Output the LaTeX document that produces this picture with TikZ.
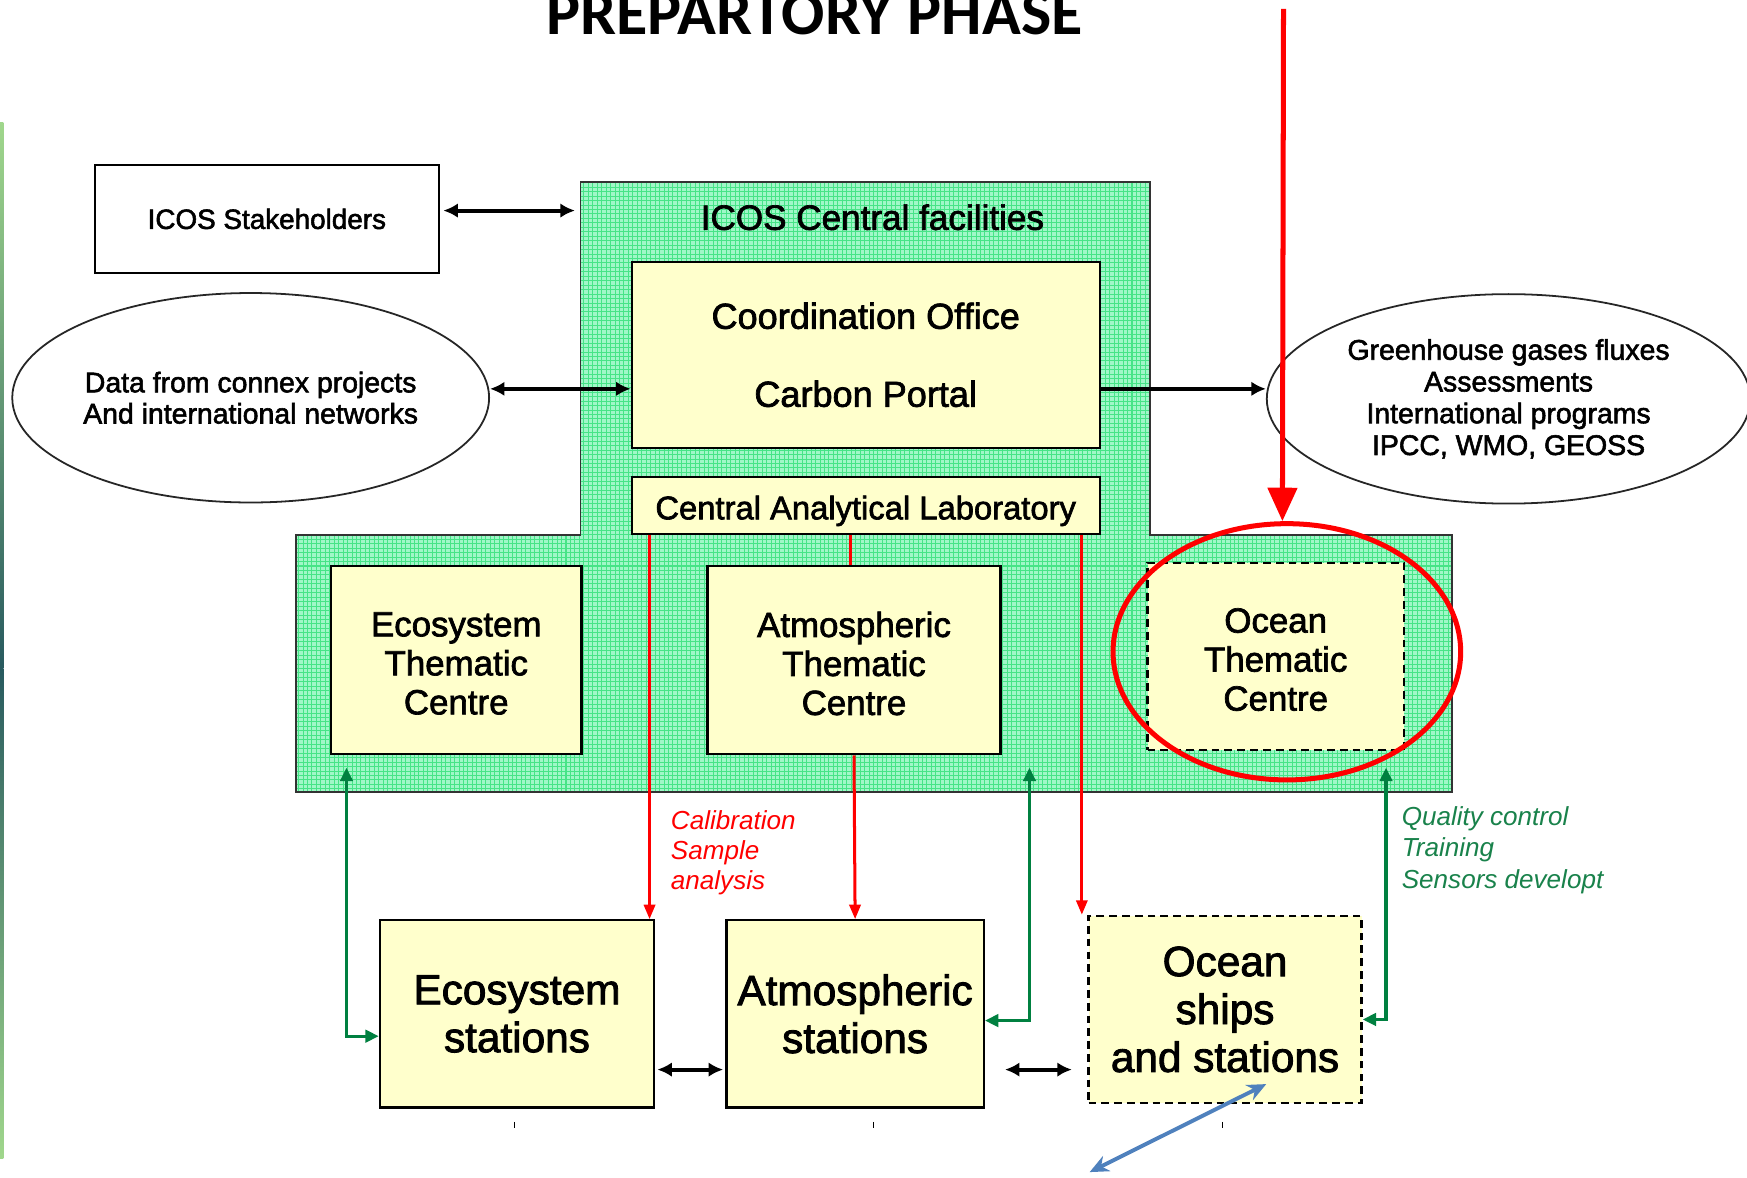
\documentclass[tikz,border=0pt]{standalone}
\usepackage{fontspec}
\setmainfont{Liberation Sans}[FakeBold=2]
\newfontfamily\lightfont{Liberation Sans}
\newfontfamily\calfont{Carlito}
\usetikzlibrary{arrows.meta,shapes.geometric}

\definecolor{boxyellow}{RGB}{255,255,204}
\definecolor{mintfill}{RGB}{160,247,200}
\definecolor{mintline}{RGB}{70,228,135}
\definecolor{arrowgreen}{RGB}{0,128,64}
\definecolor{labelgreen}{RGB}{25,130,75}
\definecolor{arrowblue}{RGB}{79,129,189}
\definecolor{stripdark}{RGB}{40,90,95}
\definecolor{striplight}{RGB}{160,215,140}

\newcommand{\fsz}[2]{\fontsize{#1}{#2}\selectfont}

\begin{document}
\begin{tikzpicture}[x=1pt,y=-1pt,
  ybox/.style={draw=black, line width=2pt, fill=boxyellow, rectangle, inner sep=0pt, align=center},
  dbox/.style={ybox, dash pattern=on 7pt off 4.5pt},
  wbox/.style={draw=black, line width=1.8pt, fill=white, rectangle, inner sep=0pt, align=center},
  ell/.style={ellipse, draw=black!85, line width=1.6pt, fill=white, inner sep=0pt, align=center},
  boxtext/.style={inner sep=0pt, align=center},
  blk/.style={line width=3.5pt, black},
  blktip/.tip={Latex[length=13pt,width=13pt]},
  redthick/.style={line width=4.5pt, red, -{Triangle[length=30pt,width=26pt]}},
  redthin/.style={line width=2.7pt, red},
  redtip/.tip={Triangle[length=13pt,width=10pt]},
  grn/.style={line width=3pt, arrowgreen, {Triangle[length=12pt,width=11pt]}-{Triangle[length=12pt,width=11pt]}},
  blu/.style={line width=3.5pt, arrowblue, {Stealth[length=17pt,width=15pt]}-{Stealth[length=17pt,width=15pt]}},
]
\useasboundingbox (0,0) rectangle (1568,1057);
\clip (0,0) rectangle (1568,1057);
\fill[white] (0,0) rectangle (1568,1057);

% left slide edge strip
\shade[top color=striplight, bottom color=stripdark] (0,110) rectangle (3,600);
\shade[top color=stripdark, bottom color=striplight] (0,600) rectangle (3,1040);

% title
\node[anchor=base, inner sep=0pt] (title) at (731,31) {\calfont\bfseries\fsz{57.5}{60}PREPARTORY PHASE};

% central facilities region
\fill[mintfill] (521,163) -- (1032,163) -- (1032,480) -- (1303,480) -- (1303,711) -- (266,711) -- (266,480) -- (521,480) -- cycle;
\begin{scope}
  \clip (521,163) -- (1032,163) -- (1032,480) -- (1303,480) -- (1303,711) -- (266,711) -- (266,480) -- (521,480) -- cycle;
  \draw[mintline, line width=0.9pt] (266,711) grid[step=4pt] (1303,163);
\end{scope}
\draw[line width=1.6pt, black!80] (521,163) -- (1032,163) -- (1032,480) -- (1303,480) -- (1303,711) -- (266,711) -- (266,480) -- (521,480) -- cycle;
\node[inner sep=0pt] (cf) at (783,195) {\fsz{31.5}{36}ICOS Central facilities};

% boxes
\node[wbox, minimum width=309pt, minimum height=97pt] (stake) at (239.5,196.5) {\fsz{25}{30}ICOS Stakeholders};
\node[ybox, minimum width=420pt, minimum height=167pt, font=\fsz{32.4}{70}] (coord) at (777,318.5) {Coordination Office\\Carbon Portal};
\node[ybox, minimum width=420pt, minimum height=51pt] (cal) at (777,453.5) {};
\node[boxtext, font=\fsz{29.4}{34}] (calt) at ([yshift=-5pt]cal.center) {Central Analytical Laboratory};
\node[ybox, minimum width=225pt, minimum height=169pt] (ecotc) at (409.5,592.5) {};
\node[boxtext, font=\fsz{31.3}{35}] (ecotct) at ([yshift=-3pt]ecotc.center) {Ecosystem\\Thematic\\Centre};
\node[ybox, minimum width=263pt, minimum height=169pt] (atmtc) at (766.5,592.5) {};
\node[boxtext, font=\fsz{31.3}{35}] (atmtct) at ([yshift=-3pt]atmtc.center) {Atmospheric\\Thematic\\Centre};
\node[dbox, minimum width=230pt, minimum height=168pt] (ocetc) at (1145,589) {};
\node[boxtext, font=\fsz{31.3}{35}] (ocetct) at ([yshift=-3pt]ocetc.center) {Ocean\\Thematic\\Centre};
\node[ybox, minimum width=246pt, minimum height=168pt, font=\fsz{38}{43}] (ecost) at (464,910) {Ecosystem\\stations};
\node[ybox, minimum width=231pt, minimum height=168pt, font=\fsz{38}{43}] (atmst) at (767.5,910) {Atmospheric\\stations};
\node[dbox, minimum width=245pt, minimum height=168pt, font=\fsz{38}{43}] (ocest) at (1099.5,906) {Ocean\\ships\\and stations};

% ellipses
\node[ell, minimum width=428pt, minimum height=188pt, font=\fsz{25.5}{28}] (data) at (225,357) {Data from connex projects\\And international networks};
\node[ell, minimum width=434pt, minimum height=188pt, font=\fsz{25.5}{28.5}] (ghg) at (1354,358) {Greenhouse gases fluxes\\Assessments\\International programs\\IPCC, WMO, GEOSS};

% labels
\node[anchor=west, inner sep=0pt, align=left, text=red, font=\lightfont\itshape\fsz{23.4}{27}] (callab) at (602,765) {Calibration\\Sample\\analysis};
\node[anchor=west, inner sep=0pt, align=left, text=labelgreen, font=\lightfont\itshape\fsz{23.4}{28}] (qclab) at (1258,763) {Quality control\\Training\\Sensors developt};

% black connectors
\coordinate (cfw) at (516,189);
\draw[blk, blktip-blktip, shorten <=3pt] ([yshift=7.5pt]stake.east) -- (cfw);
\draw[blk, blktip-blktip] ([yshift=8pt]data.east) -- ([yshift=-30.5pt]coord.west);
\draw[blk, -blktip] ([yshift=-30.5pt]coord.east) -- ([yshift=9pt]ghg.west);
\draw[blk, blktip-blktip, shorten <=2pt, shorten >=2pt] ([yshift=-50pt]ecost.east) -- ([yshift=-50pt]atmst.west);
\draw[blk, blktip-blktip, shorten <=18pt, shorten >=14pt] ([yshift=-50pt]atmst.east) -- ([yshift=-54pt]ocest.west);

% red thin connectors
\coordinate (r1) at ([xshift=-5pt]ecost.north east);
\coordinate (r3) at ([xshift=-5pt]ocest.north west);
\draw[redthin, -redtip] (r1 |- cal.south) -- (r1);
\draw[redthin] ([xshift=-3pt]cal.south -| atmtc.north) -- ([xshift=-3pt]atmtc.north);
\draw[redthin, -redtip] (atmtc.south) -- (atmst.north);
\draw[redthin, -redtip] (r3 |- cal.south) -- (r3);

% green connectors
\draw[grn] ([xshift=15pt,yshift=-11pt]ecotc.south west) |- ([yshift=-20pt]ecost.west);
\draw[grn] ([xshift=25pt,yshift=-11pt]atmtc.south east) |- ([yshift=-6pt]atmst.east);
\draw[grn] ([xshift=-17pt,yshift=-15pt]ocetc.south east) |- ([yshift=-9pt]ocest.east);

% red highlight
\node[ellipse, draw=red, line width=4.5pt, minimum width=312pt, minimum height=230pt, inner sep=0pt] (redell) at (1155,585) {};
\coordinate (redtop) at (1152,8);
\draw[redthick] (redtop) -- ([xshift=-4pt]redell.north);

% blue connector
\coordinate (bl) at (978,1052);
\draw[blu] (bl) -- ([xshift=37pt,yshift=18pt]ocest.south);

% small tick marks
\coordinate (t1) at (462,1007);
\coordinate (t2) at (784,1007);
\coordinate (t3) at (1097,1007);
\draw[line width=1.3pt] (t1) -- ++(0,5);
\draw[line width=1.3pt] (t2) -- ++(0,5);
\draw[line width=1.3pt] (t3) -- ++(0,5);
\end{tikzpicture}
\end{document}
